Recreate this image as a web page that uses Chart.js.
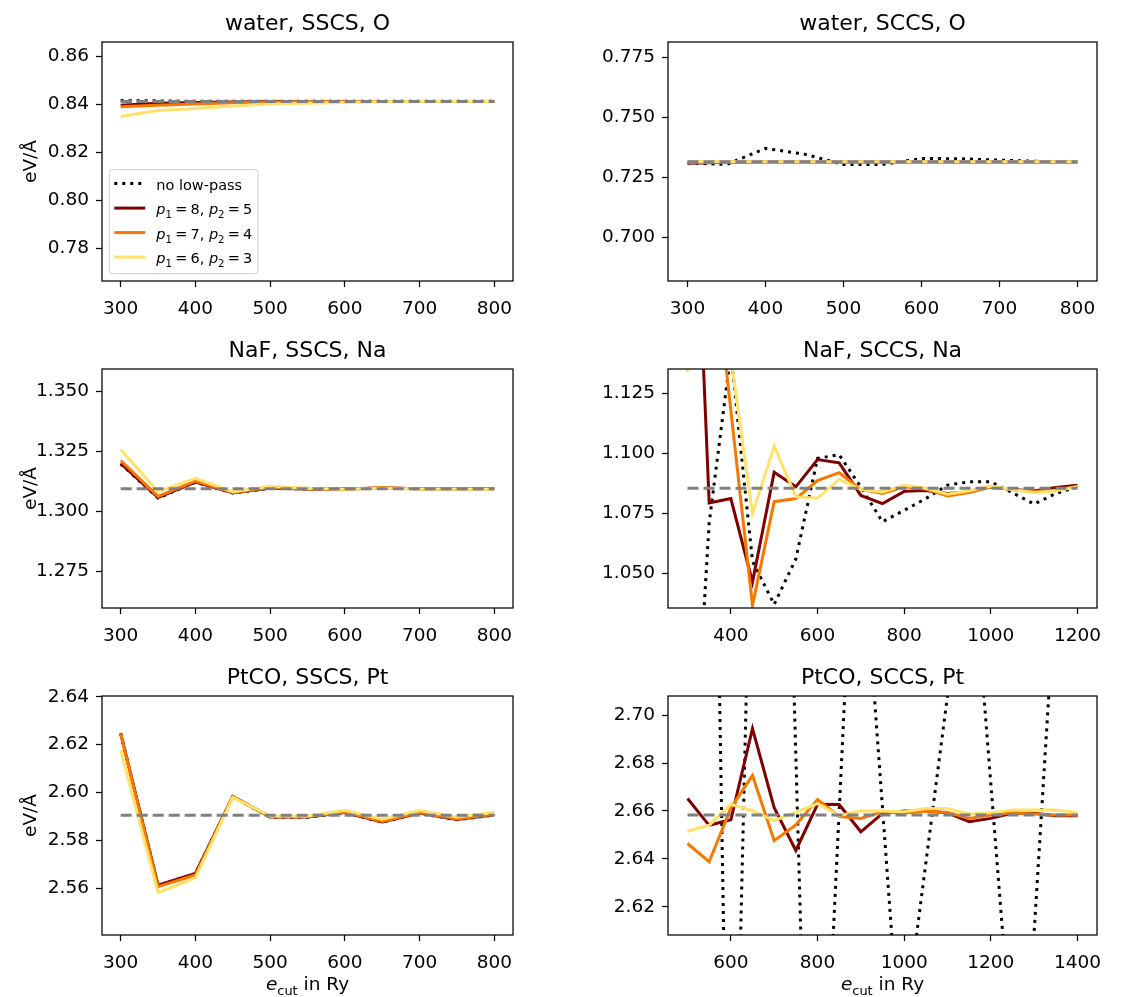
<!DOCTYPE html>
<html>
<head>
<meta charset="utf-8">
<script src="https://cdn.jsdelivr.net/npm/chart.js@4.4.0/dist/chart.umd.min.js"></script>
<style>
	body { margin: 0; background: #fff; width: 1146px; height: 997px; position: relative; overflow: hidden; }
	canvas { position: absolute; }
</style>
</head>
<body>
<canvas id="waterSscs" width="530" height="327" style="left:0px;top:0px"></canvas>
<canvas id="waterSccs" width="576" height="327" style="left:570px;top:0px"></canvas>
<canvas id="nafSscs" width="530" height="327" style="left:0px;top:327px"></canvas>
<canvas id="nafSccs" width="576" height="327" style="left:570px;top:327px"></canvas>
<canvas id="ptcoSscs" width="530" height="343" style="left:0px;top:654px"></canvas>
<canvas id="ptcoSccs" width="576" height="343" style="left:570px;top:654px"></canvas>
<script>
// e_cut grids (Ry)
var ecut300to800 = [300, 350, 400, 450, 500, 550, 600, 650, 700, 750, 800];
var ecut300to1200 = [300, 350, 400, 450, 500, 550, 600, 650, 700, 750, 800, 850, 900, 950, 1000, 1050, 1100, 1150, 1200];
var ecut500to1400 = [500, 550, 600, 650, 700, 750, 800, 850, 900, 950, 1000, 1050, 1100, 1150, 1200, 1250, 1300, 1350, 1400];
var ecutPtSccsNoLp = [500, 600, 686, 789, 890, 992, 1152, 1268, 1400];

// tick labels
var xTicks300to800 = [300, 400, 500, 600, 700, 800];
var xTicks400to1200 = [400, 600, 800, 1000, 1200];
var xTicks600to1400 = [600, 800, 1000, 1200, 1400];
var yTicksWaterSscs = [0.78, 0.80, 0.82, 0.84, 0.86];
var yTicksWaterSccs = [0.700, 0.725, 0.750, 0.775];
var yTicksNafSscs = [1.275, 1.300, 1.325, 1.350];
var yTicksNafSccs = [1.050, 1.075, 1.100, 1.125];
var yTicksPtcoSscs = [2.56, 2.58, 2.60, 2.62, 2.64];
var yTicksPtcoSccs = [2.62, 2.64, 2.66, 2.68, 2.70];

var seriesLabels = ['no low-pass', 'p1 = 8, p2 = 5', 'p1 = 7, p2 = 4', 'p1 = 6, p2 = 3'];

// force in eV/Å
var waterSscsNoLp = [0.8416, 0.8415, 0.8413, 0.8413, 0.8413, 0.8413, 0.8413, 0.8413, 0.8413, 0.8413, 0.8413];
var waterSscsP85 = [0.8397, 0.8405, 0.8408, 0.8410, 0.8412, 0.8412, 0.8412, 0.8412, 0.8412, 0.8412, 0.8412];
var waterSscsP74 = [0.8390, 0.8397, 0.8402, 0.8407, 0.8410, 0.8412, 0.8412, 0.8412, 0.8412, 0.8412, 0.8412];
var waterSscsP63 = [0.8350, 0.8375, 0.8383, 0.8394, 0.8402, 0.8405, 0.8408, 0.8411, 0.8412, 0.8412, 0.8412];
var waterSscsRef = 0.8412;

var waterSccsNoLp = [0.7310, 0.7303, 0.7370, 0.7346, 0.7303, 0.7303, 0.7328, 0.7327, 0.7321, 0.7316, 0.7315];
var waterSccsP85 = [0.7308, 0.7312, 0.7313, 0.7313, 0.7313, 0.7313, 0.7313, 0.7313, 0.7313, 0.7313, 0.7313];
var waterSccsP74 = [0.7312, 0.7313, 0.7313, 0.7313, 0.7313, 0.7313, 0.7313, 0.7313, 0.7313, 0.7313, 0.7313];
var waterSccsP63 = [0.7314, 0.7314, 0.7314, 0.7314, 0.7314, 0.7314, 0.7314, 0.7314, 0.7314, 0.7314, 0.7314];
var waterSccsRef = 0.7314;

var nafSscsNoLp = [1.3198, 1.3055, 1.3121, 1.3076, 1.3096, 1.3093, 1.3093, 1.3097, 1.3094, 1.3094, 1.3094];
var nafSscsP85 = [1.3200, 1.3057, 1.3122, 1.3077, 1.3097, 1.3093, 1.3093, 1.3097, 1.3094, 1.3094, 1.3094];
var nafSscsP74 = [1.3212, 1.3062, 1.3126, 1.3078, 1.3099, 1.3093, 1.3093, 1.3098, 1.3094, 1.3094, 1.3094];
var nafSscsP63 = [1.3258, 1.3082, 1.3137, 1.3082, 1.3104, 1.3096, 1.3092, 1.3096, 1.3093, 1.3093, 1.3092];
var nafSscsRef = 1.3094;

var nafSccsNoLp = [0.920, 1.071, 1.142, 1.055, 1.037, 1.056, 1.098, 1.0995, 1.086, 1.0715, 1.0763, 1.0812, 1.0868, 1.0882, 1.0882, 1.0836, 1.0789, 1.0833, 1.0861];
var nafSccsP85 = [1.296, 1.0794, 1.0812, 1.0463, 1.0922, 1.0861, 1.0975, 1.0961, 1.0825, 1.0791, 1.0842, 1.0846, 1.0833, 1.0839, 1.0861, 1.0850, 1.0844, 1.0858, 1.0868];
var nafSccsP74 = [1.350, 1.200, 1.118, 1.0366, 1.0799, 1.0812, 1.0887, 1.0920, 1.0850, 1.0833, 1.0861, 1.0852, 1.0823, 1.0837, 1.0861, 1.0850, 1.0840, 1.0847, 1.0862];
var nafSccsP63 = [1.134, 1.200, 1.140, 1.0748, 1.1031, 1.0820, 1.0813, 1.0892, 1.0850, 1.0840, 1.0867, 1.0855, 1.0830, 1.0845, 1.0864, 1.0850, 1.0836, 1.0845, 1.0861];
var nafSccsRef = 1.0855;

var ptcoSscsNoLp = [2.6246, 2.5612, 2.5661, 2.5983, 2.5897, 2.5897, 2.5915, 2.5876, 2.5913, 2.5886, 2.5906];
var ptcoSscsP85 = [2.6247, 2.5613, 2.5662, 2.5983, 2.5898, 2.5898, 2.5916, 2.5877, 2.5914, 2.5887, 2.5907];
var ptcoSscsP74 = [2.6245, 2.5607, 2.5656, 2.5982, 2.5899, 2.5899, 2.5918, 2.5879, 2.5916, 2.5889, 2.5909];
var ptcoSscsP63 = [2.6177, 2.5582, 2.5644, 2.5980, 2.5902, 2.5902, 2.5926, 2.5888, 2.5925, 2.5898, 2.5918];
var ptcoSscsRef = 2.5905;

var ptcoSccsNoLp = [3.490, 2.434, 3.097, 2.431, 2.810, 2.557, 2.781, 2.516, 2.902];
var ptcoSccsP85 = [2.6652, 2.6540, 2.6563, 2.6944, 2.6614, 2.6435, 2.6628, 2.6627, 2.6513, 2.6590, 2.6600, 2.6600, 2.6592, 2.6555, 2.6569, 2.6590, 2.6590, 2.6580, 2.6580];
var ptcoSccsP74 = [2.6464, 2.6388, 2.6612, 2.6748, 2.6476, 2.6542, 2.6648, 2.6577, 2.6569, 2.6597, 2.6590, 2.6600, 2.6594, 2.6569, 2.6583, 2.6592, 2.6587, 2.6583, 2.6583];
var ptcoSccsP63 = [2.6515, 2.6540, 2.6628, 2.6601, 2.6560, 2.6594, 2.6631, 2.6580, 2.6601, 2.6600, 2.6597, 2.6610, 2.6610, 2.6587, 2.6592, 2.6604, 2.6604, 2.6604, 2.6594];
var ptcoSccsRef = 2.6583;

var colors = { noLp: '#000000', p85: '#800000', p74: '#f77800', p63: '#ffe26b', ref: '#808080' };
var FONT = '"DejaVu Sans"';
var LW = 3;

Chart.defaults.font.family = FONT;
Chart.defaults.color = '#000';

function pts(xs, ys) {
	return xs.map(function (x, i) { return { x: x, y: ys[i] }; });
}

function lineSet(label, xs, ys, color, dash, order) {
	return {
		label: label,
		data: pts(xs, ys),
		borderColor: color,
		borderWidth: LW,
		borderDash: dash,
		borderCapStyle: 'butt',
		pointRadius: 0,
		tension: 0,
		fill: false,
		clip: 0,
		order: order
	};
}

// mixed italic / subscript text, drawn left to right
function runFont(r, size) {
	return (r.it ? 'italic ' : '') + (r.sub ? size * 0.7 : size) + 'px ' + FONT;
}
function richText(ctx, runs, x, y, size, align) {
	var widths = runs.map(function (r) {
		ctx.font = runFont(r, size);
		return ctx.measureText(r.t).width + (r.gap || 0) * 2 * size;
	});
	var total = widths.reduce(function (a, b) { return a + b; }, 0);
	var cx = align === 'center' ? x - total / 2 : x;
	ctx.textBaseline = 'alphabetic';
	ctx.textAlign = 'left';
	runs.forEach(function (r, i) {
		ctx.font = runFont(r, size);
		ctx.fillText(r.t, cx + (r.gap || 0) * size, y + (r.sub ? 0.26 * size : 0));
		cx += widths[i];
	});
}
function pRuns(a, b) {
	return [
		{ t: 'p', it: 1 }, { t: '1', sub: 1 }, { t: '=', gap: 0.22 }, { t: a + ', ' },
		{ t: 'p', it: 1 }, { t: '2', sub: 1 }, { t: '=', gap: 0.22 }, { t: b }
	];
}

var panelText = {
	id: 'panelText',
	afterDatasetsDraw: function (chart, args, opts) {
		var a = chart.chartArea, ctx = chart.ctx;
		ctx.save();
		ctx.strokeStyle = '#000';
		ctx.lineWidth = 1.25;
		ctx.strokeRect(a.left, a.top, a.right - a.left, a.bottom - a.top);

		ctx.fillStyle = '#000';
		ctx.font = '22px ' + FONT;
		ctx.textAlign = 'center';
		ctx.textBaseline = 'alphabetic';
		ctx.fillText(opts.title, (a.left + a.right) / 2, a.top - 12.3);

		if (opts.xTitle) {
			richText(ctx, [{ t: 'e', it: 1 }, { t: 'cut', sub: 1 }, { t: ' in Ry' }],
				(a.left + a.right) / 2, chart.height - 7, 18.5, 'center');
		}

		if (opts.legend) {
			var bx = a.left + 7.3, bw = 148.7, bh = 104, by = a.bottom - 7.4 - bh;
			ctx.beginPath();
			ctx.roundRect(bx, by, bw, bh, 3);
			ctx.fillStyle = 'rgba(255,255,255,0.8)';
			ctx.fill();
			ctx.strokeStyle = '#cccccc';
			ctx.lineWidth = 1;
			ctx.stroke();
			var sets = chart.data.datasets.filter(function (d) { return d.inLegend; });
			sets.sort(function (m, n) { return m.legendPos - n.legendPos; });
			sets.forEach(function (d, i) {
				var ry = by + 14 + i * 24.5;
				ctx.beginPath();
				ctx.setLineDash(d.borderDash);
				ctx.strokeStyle = d.borderColor;
				ctx.lineWidth = LW;
				ctx.moveTo(bx + 5, ry);
				ctx.lineTo(bx + 36, ry);
				ctx.stroke();
				ctx.setLineDash([]);
				ctx.fillStyle = '#000';
				richText(ctx, d.legendRuns, bx + 47, ry + 6.3, 14.5, 'left');
			});
		}
		ctx.restore();
	}
};

function tickList(values) {
	return function (scale) {
		scale.ticks = values.map(function (v) { return { value: v }; });
	};
}

function makePanel(p) {
	var x0 = p.xs[0], x1 = p.xs[p.xs.length - 1];
	var ref = lineSet('reference', [x0, x1], [p.ref, p.ref], colors.ref, [11, 5], 0);
	var p63 = lineSet(seriesLabels[3], p.xs, p.p63, colors.p63, [], 1);
	var p74 = lineSet(seriesLabels[2], p.xs, p.p74, colors.p74, [], 2);
	var p85 = lineSet(seriesLabels[1], p.xs, p.p85, colors.p85, [], 3);
	var noLp = lineSet(seriesLabels[0], p.noLpXs || p.xs, p.noLp, colors.noLp, [3, 5], 4);

	// legend entries, in the order they are listed
	[[noLp, [{ t: seriesLabels[0] }]], [p85, pRuns('8', '5')], [p74, pRuns('7', '4')], [p63, pRuns('6', '3')]]
		.forEach(function (e, i) { e[0].inLegend = true; e[0].legendRuns = e[1]; e[0].legendPos = i; });

	var canvas = document.getElementById(p.id);
	return new Chart(canvas, {
		type: 'line',
		data: { datasets: [ref, p63, p74, p85, noLp] },
		options: {
			responsive: false,
			animation: false,
			devicePixelRatio: 1,
			layout: { padding: { top: 42, right: p.padRight, left: 0, bottom: 0 } },
			plugins: {
				legend: { display: false },
				tooltip: { enabled: false },
				panelText: { title: p.title, xTitle: p.xTitle, legend: p.legend }
			},
			scales: {
				x: {
					type: 'linear',
					min: p.xMin, max: p.xMax,
					border: { display: false },
					grid: { drawOnChartArea: false, drawTicks: true, tickLength: 6, tickWidth: 1.25, tickColor: '#000' },
					ticks: {
						autoSkip: false, maxRotation: 0,
						padding: 11, color: '#000', font: { size: 18.5 },
						callback: function (v) { return String(v); }
					},
					afterBuildTicks: tickList(p.xTicks),
					afterFit: function (s) { s.height = canvas.height - 42 - 239; }
				},
				y: {
					type: 'linear',
					min: p.yMin, max: p.yMax,
					border: { display: false },
					grid: { drawOnChartArea: false, drawTicks: true, tickLength: 6, tickWidth: 1.25, tickColor: '#000' },
					ticks: {
						autoSkip: false,
						padding: 7, color: '#000', font: { size: 18.5 },
						callback: function (v) { return v.toFixed(p.yDec); }
					},
					afterBuildTicks: tickList(p.yTicks),
					title: { display: p.yTitle, text: 'eV/Å', font: { size: 18.5 }, color: '#000', padding: { top: 20, bottom: 0 } },
					afterFit: function (s) { s.width = p.yAxisW; }
				}
			}
		},
		plugins: [panelText]
	});
}

var left = { padRight: 17, yAxisW: 102, yTitle: true };
var right = { padRight: 49, yAxisW: 98, yTitle: false };

function panel(side, extra) {
	return Object.assign({}, side, extra);
}

makePanel(panel(left, {
	id: 'waterSscs', title: 'water, SSCS, O', legend: true,
	xs: ecut300to800, noLp: waterSscsNoLp, p85: waterSscsP85, p74: waterSscsP74, p63: waterSscsP63, ref: waterSscsRef,
	xMin: 275, xMax: 825, xTicks: xTicks300to800, yMin: 0.7665, yMax: 0.8660, yTicks: yTicksWaterSscs, yDec: 2
}));
makePanel(panel(right, {
	id: 'waterSccs', title: 'water, SCCS, O',
	xs: ecut300to800, noLp: waterSccsNoLp, p85: waterSccsP85, p74: waterSccsP74, p63: waterSccsP63, ref: waterSccsRef,
	xMin: 275, xMax: 825, xTicks: xTicks300to800, yMin: 0.6818, yMax: 0.7813, yTicks: yTicksWaterSccs, yDec: 3
}));
makePanel(panel(left, {
	id: 'nafSscs', title: 'NaF, SSCS, Na',
	xs: ecut300to800, noLp: nafSscsNoLp, p85: nafSscsP85, p74: nafSscsP74, p63: nafSscsP63, ref: nafSscsRef,
	xMin: 275, xMax: 825, xTicks: xTicks300to800, yMin: 1.2596, yMax: 1.3594, yTicks: yTicksNafSscs, yDec: 3
}));
makePanel(panel(right, {
	id: 'nafSccs', title: 'NaF, SCCS, Na',
	xs: ecut300to1200, noLp: nafSccsNoLp, p85: nafSccsP85, p74: nafSccsP74, p63: nafSccsP63, ref: nafSccsRef,
	xMin: 255, xMax: 1245, xTicks: xTicks400to1200, yMin: 1.0355, yMax: 1.1353, yTicks: yTicksNafSccs, yDec: 3
}));
makePanel(panel(left, {
	id: 'ptcoSscs', title: 'PtCO, SSCS, Pt', xTitle: true,
	xs: ecut300to800, noLp: ptcoSscsNoLp, p85: ptcoSscsP85, p74: ptcoSscsP74, p63: ptcoSscsP63, ref: ptcoSscsRef,
	xMin: 275, xMax: 825, xTicks: xTicks300to800, yMin: 2.5405, yMax: 2.6403, yTicks: yTicksPtcoSscs, yDec: 2
}));
makePanel(panel(right, {
	id: 'ptcoSccs', title: 'PtCO, SCCS, Pt', xTitle: true,
	xs: ecut500to1400, noLpXs: ecutPtSccsNoLp, noLp: ptcoSccsNoLp, p85: ptcoSccsP85, p74: ptcoSccsP74, p63: ptcoSccsP63, ref: ptcoSccsRef,
	xMin: 455, xMax: 1445, xTicks: xTicks600to1400, yMin: 2.6082, yMax: 2.7080, yTicks: yTicksPtcoSccs, yDec: 2
}));
</script>
</body>
</html>
